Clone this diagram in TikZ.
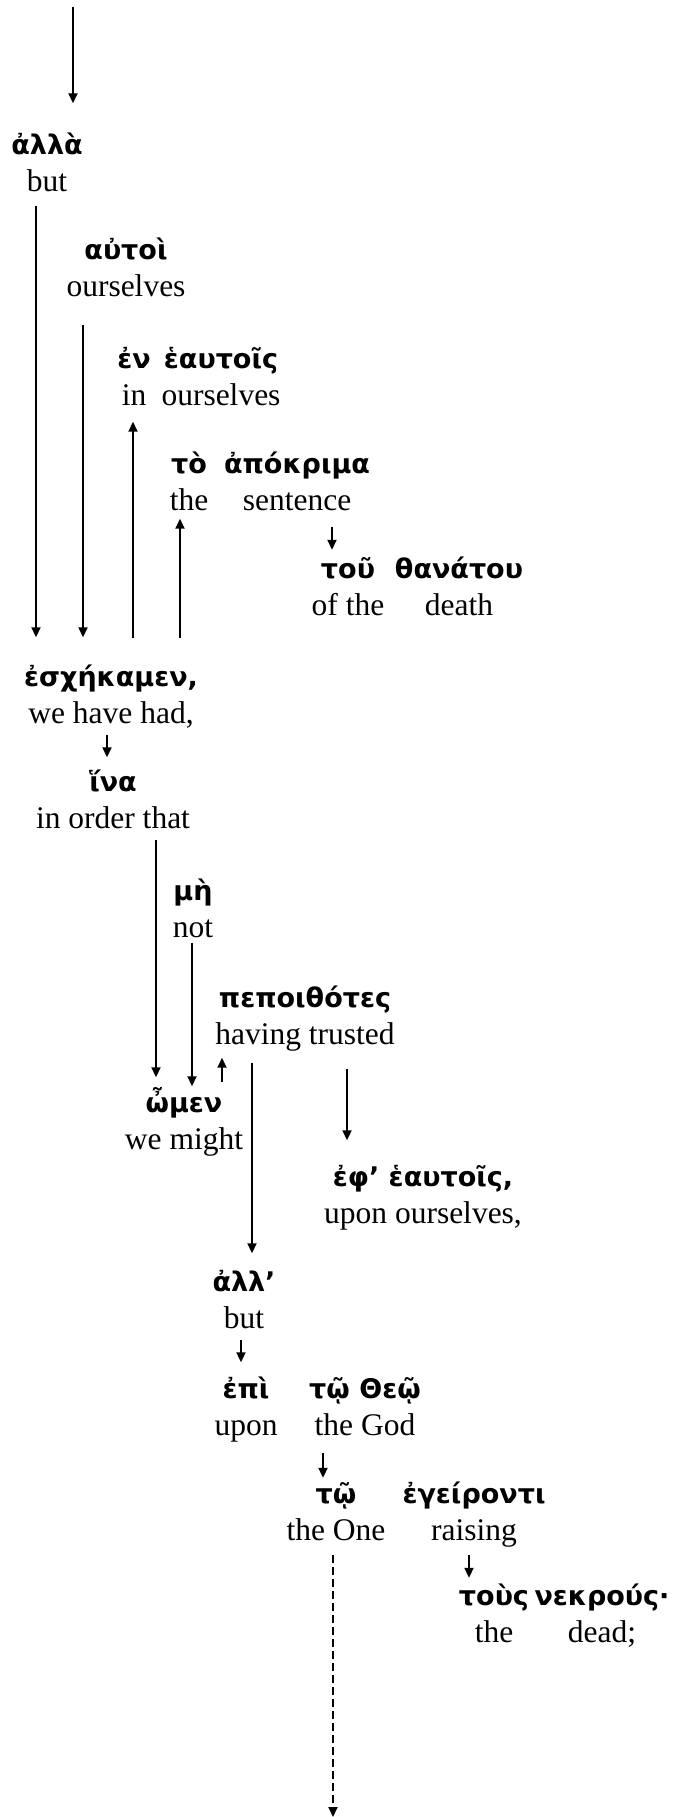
\documentclass[tikz,border=0pt]{standalone}
\usepackage{fontspec}
\setmainfont{Liberation Serif}
\newfontfamily\gkfont{DejaVu Sans}
\usetikzlibrary{arrows.meta}
% greek word over its gloss
\newcommand{\gw}[2]{\strut{\gkfont\bfseries\fontsize{27}{37}\selectfont #1}\\\strut #2}

\begin{document}
\begin{tikzpicture}
	[x=1pt,y=-1pt,every node/.style={align=center,inner sep=0pt,
		font=\fontsize{31.5}{37}\selectfont},
	arr/.style={-{Triangle[width=9pt,length=10pt]},line width=1.8pt}]
	\useasboundingbox (0,0) rectangle (675,1817);
	\node (alla) at (47,165.5) {\gw{ἀλλὰ}{but}};
	\node (autoi) at (126,270.5) {\gw{αὐτοὶ}{ourselves}};
	\node (en) at (134,379.5) {\gw{ἐν}{in}};
	\node (eautois) at (221,379.5) {\gw{ἑαυτοῖς}{ourselves}};
	\node (toapo) at (189,484.5) {\gw{τὸ}{the}};
	\node (apokrima) at (297,484.5) {\gw{ἀπόκριμα}{sentence}};
	\node (tou) at (348,590) {\gw{τοῦ}{of the}};
	\node (thanatou) at (459,590) {\gw{θανάτου}{death}};
	\node (eschekamen) at (111,697.5) {\gw{ἐσχήκαμεν,}{we have had,}};
	\node (hina) at (113,802.5) {\gw{ἵνα}{in order that}};
	\node (me) at (193,912) {\gw{μὴ}{not}};
	\node (pepoithotes) at (305,1018.5) {\gw{πεποιθότες}{having trusted}};
	\node (omen) at (184,1123.5) {\gw{ὦμεν}{we might}};
	\node (eph) at (423,1197.5) {\gw{ἐφ’ ἑαυτοῖς,}{upon ourselves,}};
	\node (all) at (244,1302.5) {\gw{ἀλλ’}{but}};
	\node (epi) at (246,1409.5) {\gw{ἐπὶ}{upon}};
	\node (theo) at (365,1409.5) {\gw{τῷ Θεῷ}{the God}};
	\node (toone) at (336,1515) {\gw{τῷ}{the One}};
	\node (egeironti) at (474,1515) {\gw{ἐγείροντι}{raising}};
	\node (tous) at (494,1617) {\gw{τοὺς}{the}};
	\node (nekrous) at (602,1617) {\gw{νεκρούς·}{dead;}};

	\coordinate (start) at (73,7);
	\coordinate (bottom) at (333,1817);
	\draw[arr,shorten >=25pt] (start) -- (alla.north -| start);

	\foreach \fromNode/\toNode/\col/\gapA/\gapB in {
		alla.south/eschekamen.north/36/3pt/23pt,
		autoi.south/eschekamen.north/83/17pt/23pt,
		eschekamen.north/en.south/133/22pt/5pt,
		eschekamen.north/toapo.south/180/22pt/-3pt,
		apokrima.south/tou.north/332/5pt/3pt,
		eschekamen.south/hina.north/107/0pt/8pt,
		hina.south/omen.north/156/0pt/9pt,
		me.south/omen.north/192/-6pt/0pt,
		omen.north/pepoithotes.south/222/4pt/2pt,
		pepoithotes.south/all.north/252/7pt/12pt,
		pepoithotes.south/eph.north/347/13pt/20pt,
		all.south/epi.north/241/0pt/10pt,
		theo.south/toone.north/323/6pt/0pt,
		egeironti.south/tous.north/469/3pt/2pt}{
		\draw[arr,shorten <=\gapA,shorten >=\gapB] (\fromNode -| \col,0) -- (\toNode -| \col,0);
	}
	\draw[arr,dash pattern=on 8pt off 4pt,shorten <=3pt] (toone.south -| bottom) -- (bottom);
\end{tikzpicture}
\end{document}
